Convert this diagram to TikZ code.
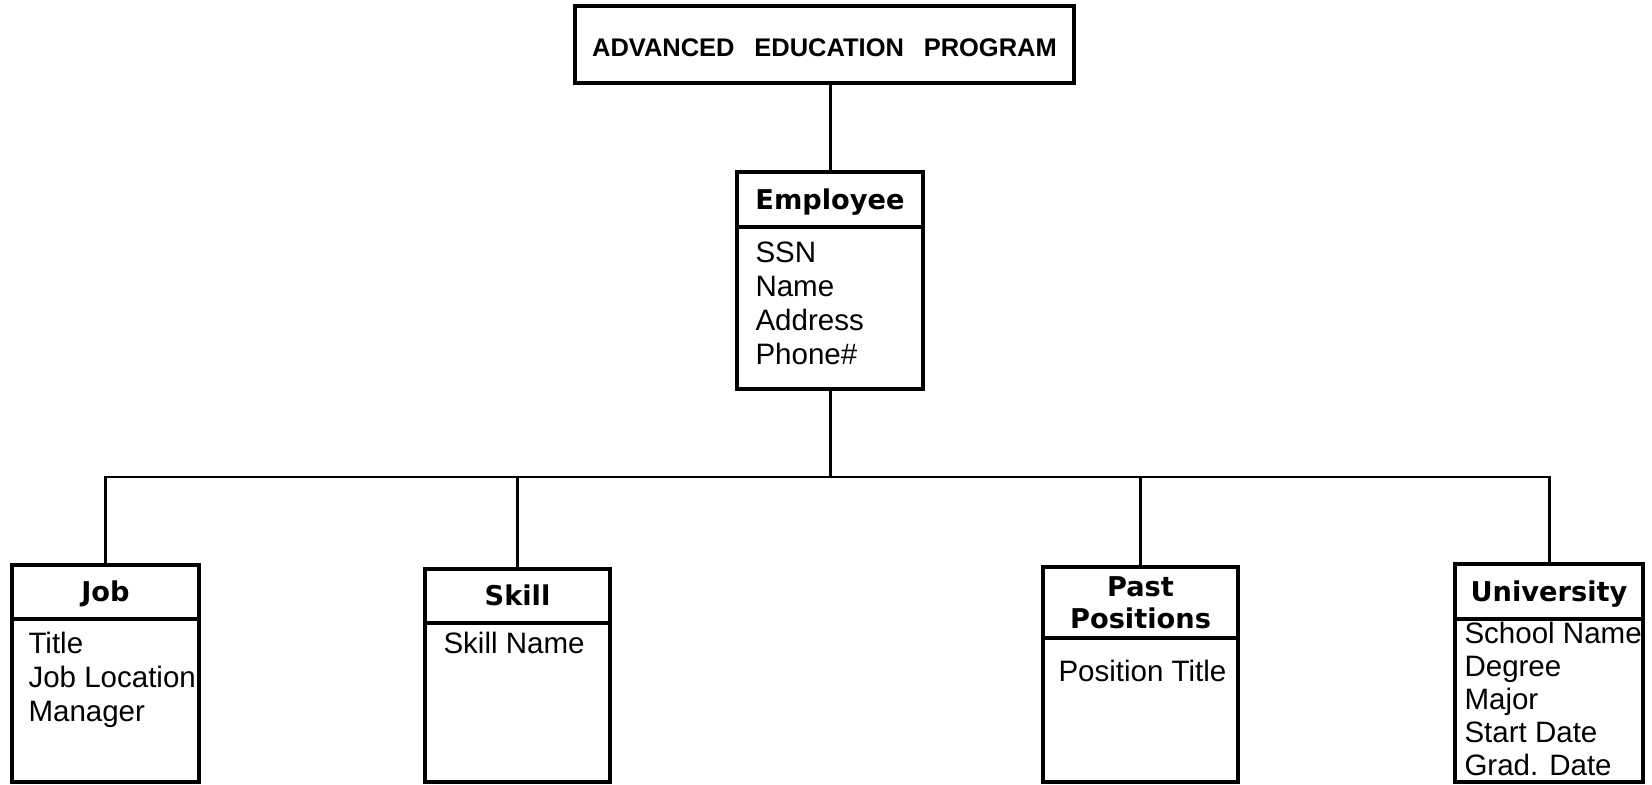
\documentclass[tikz,border=0pt]{standalone}
\usepackage{fontspec}
\setmainfont{Liberation Sans}
\newfontfamily\headfam{DejaVu Sans}
\usetikzlibrary{positioning,calc}

\newcommand{\progfont}{\fontsize{14.5}{17}\selectfont\bfseries}
\newcommand{\headfont}{\fontsize{15.5}{18.1}\selectfont\headfam\bfseries}
\tikzset{
  head/.style={draw, line width=2pt, inner sep=0pt, outer sep=0pt, font=\headfont, text height=11.3pt, text depth=0pt},
  attrs/.style={anchor=north west, inner sep=0pt, align=left, font=\fontsize{16.8}{19.3}\selectfont},
  rec/.style={line width=2pt},
}

\begin{document}
\begin{tikzpicture}[x=0.02cm, y=-0.02cm, line width=1.7pt]
\useasboundingbox[fill=white] (0,0) rectangle (1652,784);
\coordinate (bottom) at (0,782);
\coordinate (empbottom) at (0,389);
\coordinate (bus) at (830,477);

\node[head, font=\progfont, minimum width=9.98cm, minimum height=1.54cm, text height=13.2pt] (prog) at (824.5,44.5) {ADVANCED \enspace EDUCATION \enspace PROGRAM};

% employee record
\node[head, minimum width=3.72cm, minimum height=1.1cm] (emp) at (830,199.5) {Employee};
\draw[rec] (emp.south west) rectangle (emp.east |- empbottom);
\node[attrs] (empattr) at ($(emp.south west)+(17,13.6)$) {SSN\\Name\\Address\\Phone\#};

% the four child records
\node[head, minimum width=3.74cm, minimum height=1.08cm] (job) at (105.5,592) {Job};
\node[head, minimum width=3.7cm, minimum height=1.08cm] (skill) at (517.5,596) {Skill};
\node[head, minimum width=3.9cm, minimum height=1.42cm, align=center, text height=29.4pt] (past) at (1140.5,602.5) {Past\\Positions};
\node[head, minimum width=3.76cm, minimum height=1.1cm] (uni) at (1549,591.5) {University};
\foreach \n in {job,skill,past,uni}
  \draw[rec] (\n.south west) rectangle (\n.east |- bottom);

\node[attrs] (jobattr) at ($(job.south west)+(15,11.6)$) {Title\\Job Location\\Manager};
\node[attrs] (skillattr) at ($(skill.south west)+(17,7.6)$) {Skill Name};
\node[attrs] (pastattr) at ($(past.south west)+(14,20.6)$) {Position Title};
\node[attrs, font=\fontsize{16.8}{18.8}\selectfont] (uniattr) at ($(uni.south west)+(8,1.6)$) {School Name\\Degree\\Major\\Start Date\\Grad. Date};

% connectors
\draw (emp.north) -- (emp.north |- prog.south);
\draw (emp.south |- empbottom) -- (bus);
\draw (job.north) -- (job.north |- bus) -- (uni.north |- bus) -- (uni.north);
\foreach \n in {skill,past}
  \draw (\n.north) -- (\n.north |- bus);
\end{tikzpicture}
\end{document}
